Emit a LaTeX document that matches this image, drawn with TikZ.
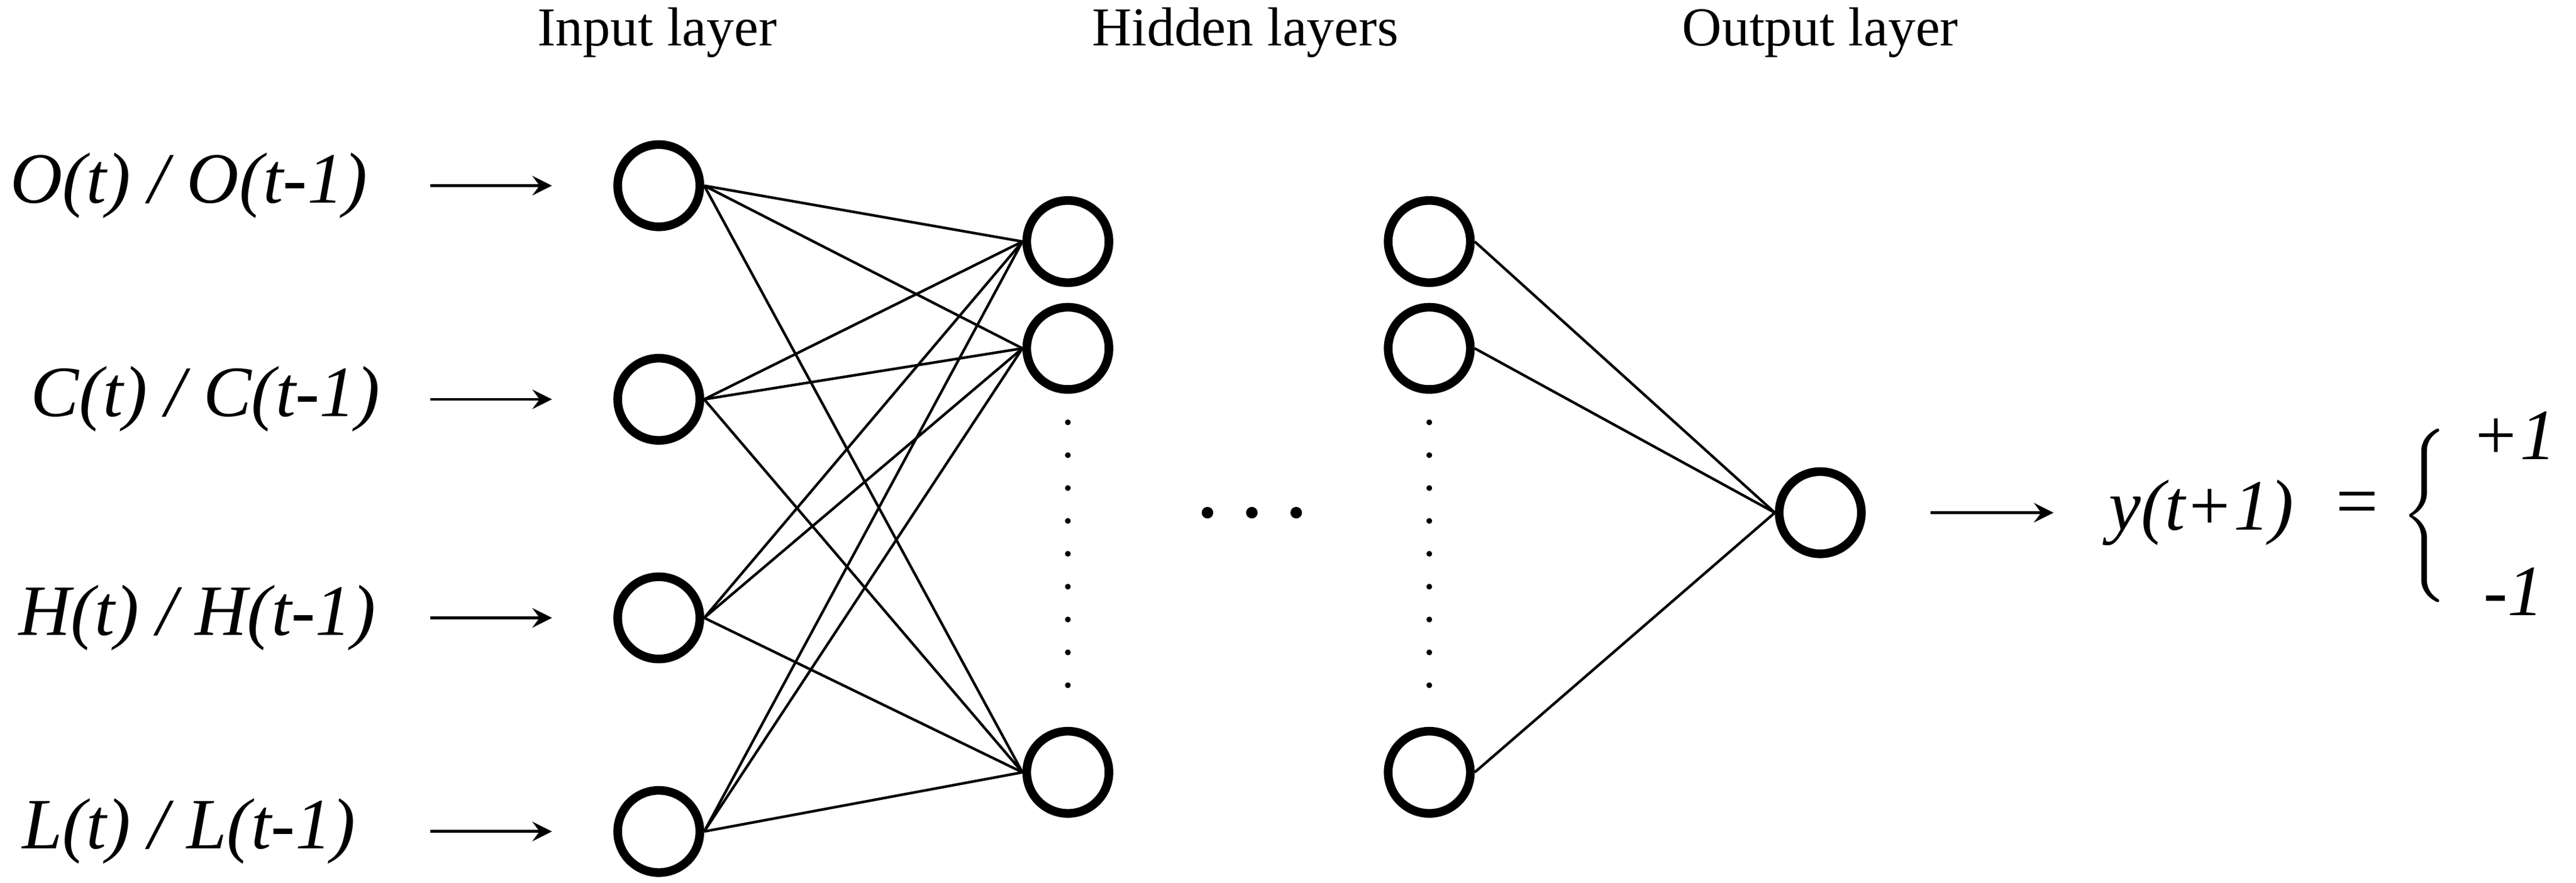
\documentclass[tikz,border=0pt]{standalone}
\usepackage{fontspec}
\setmainfont{Liberation Serif}
\begin{document}
\begin{tikzpicture}[x=0.01cm,y=-0.01cm,
  neu/.style={circle,draw,line width=1.5pt,minimum size=0.5cm,inner sep=0pt},
  con/.style={line width=0.45pt},
  arr/.style={line width=0.5pt,-stealth},
  lab/.style={font=\fontsize{12.5}{14}\selectfont\itshape},
  ttl/.style={font=\fontsize{9.5}{11}\selectfont}]
\useasboundingbox (0,0) rectangle (1568,537);
\foreach \n/\y in {1/113,2/243,3/376,4/506} \node[neu] (i\n) at (401,\y) {};
\foreach \n/\y in {1/147,2/212,3/470} {\node[neu] (h\n) at (650,\y) {}; \node[neu] (g\n) at (870,\y) {};}
\node[neu] (o) at (1108,312) {};
\foreach \a in {1,2,3,4} \foreach \b in {1,2,3} \draw[con] (i\a.east) -- (h\b.west);
\foreach \b in {1,2,3} \draw[con] (g\b.east) -- (o.west);
\foreach \y in {257,277,297,317,337,357,377,397,417} {\fill (650,\y) circle (0.5pt); \fill (870,\y) circle (0.5pt);}
\foreach \x in {735,762,789} \fill (\x,312) circle (1pt);
\node[ttl] (t1) at (400,20) {Input layer};
\node[ttl] (t2) at (758,20) {Hidden layers};
\node[ttl] (t3) at (1108,20) {Output layer};
\node[lab] (l1) at (115,113) {O(t) / O(t-1)};
\node[lab] (l2) at (125,243) {C(t) / C(t-1)};
\node[lab] (l3) at (120,376) {H(t) / H(t-1)};
\node[lab] (l4) at (115,506) {L(t) / L(t-1)};
\foreach \n/\y in {1/113,2/243,3/376,4/506} {\coordinate (s\n) at (262,\y); \coordinate (e\n) at (336,\y); \draw[arr] (s\n) -- (e\n);}
\coordinate (os) at (1175,312); \coordinate (oe) at (1250,312);
\draw[arr] (os) -- (oe);
\node[lab] (y) at (1340,312) {y(t+1)};
\node[font=\fontsize{13}{16}\selectfont] (eq) at (1435,310) {=};
\node[font=\fontsize{13}{16}\selectfont] (br) at (1478,314) {$\left\{\vphantom{\rule{0pt}{0.6cm}}\right.$};
\node[lab] (p1) at (1530,265) {+1};
\node[lab] (m1) at (1530,360) {-1};
\end{tikzpicture}
\end{document}
